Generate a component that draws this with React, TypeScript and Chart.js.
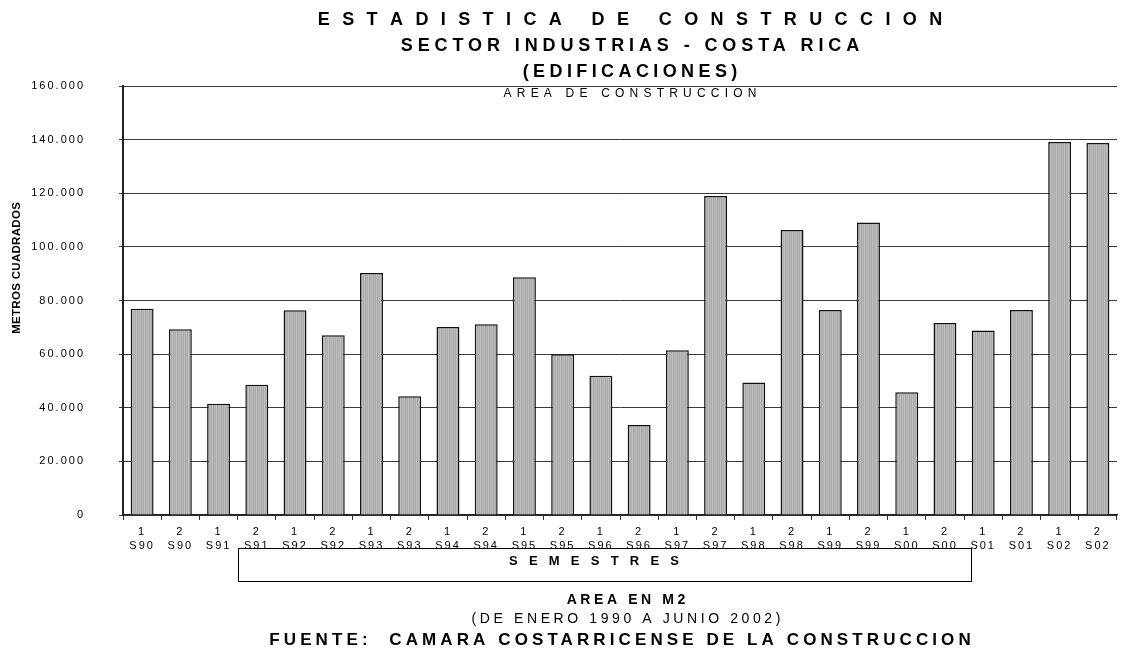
import React, { useEffect, useRef } from "react";
import { Chart, registerables } from "chart.js";

Chart.register(...registerables);

// ---- data ----
const semesters = ["1", "2", "1", "2", "1", "2", "1", "2", "1", "2", "1", "2", "1", "2", "1", "2", "1", "2", "1", "2", "1", "2", "1", "2", "1", "2"];
const years = ["S90", "S90", "S91", "S91", "S92", "S92", "S93", "S93", "S94", "S94", "S95", "S95", "S96", "S96", "S97", "S97", "S98", "S98", "S99", "S99", "S00", "S00", "S01", "S01", "S02", "S02"];
const areaM2 = [76900, 69300, 41500, 48600, 76400, 67000, 90300, 44300, 70100, 71100, 88700, 60000, 51900, 33600, 61400, 119000, 49400, 106300, 76500, 109100, 45800, 71600, 68800, 76500, 139100, 138700];
const yMin = 0;
const yMax = 160000;
const yStep = 20000;

const titleLines = [
  "E S T A D I S T I C A   D E   C O N S T R U C C I O N",
  "SECTOR INDUSTRIAS - COSTA RICA",
  "(EDIFICACIONES)",
];
const subtitle = "AREA DE CONSTRUCCION";
const yTitle = "METROS CUADRADOS";
const xTitle = "S E M E S T R E S";
const footer1 = "AREA EN M2";
const footer2 = "(DE ENERO 1990 A JUNIO 2002)";
const footer3 = "FUENTE:  CAMARA COSTARRICENSE DE LA CONSTRUCCION";

const FAMILY = "'Liberation Sans', Arial, Helvetica, sans-serif";

function fmt(v: number): string {
  const s = Math.round(v).toString();
  return s.replace(/\B(?=(\d{3})+(?!\d))/g, ".");
}

function makePattern(): CanvasPattern | string {
  const c = document.createElement("canvas");
  c.width = 4;
  c.height = 4;
  const g = c.getContext("2d");
  if (!g) return "#b4b4b4";
  const cols = ["#c0c0c0", "#a6a6a6", "#bababa", "#acacac"];
  cols.forEach((col, i) => {
    g.fillStyle = col;
    g.fillRect(i, 0, 1, 4);
  });
  const p = g.createPattern(c, "repeat");
  return p || "#b4b4b4";
}

function drawSpaced(
  ctx: CanvasRenderingContext2D,
  text: string,
  x: number,
  y: number,
  font: string,
  spacing: number,
  align: CanvasTextAlign = "center"
) {
  ctx.save();
  ctx.font = font;
  (ctx as any).letterSpacing = spacing + "px";
  ctx.textAlign = align;
  ctx.textBaseline = "middle";
  ctx.fillStyle = "#000";
  const dx = align === "center" ? spacing / 2 : 0;
  ctx.fillText(text, x + dx, y);
  ctx.restore();
}

const spacingPlugin = {
  id: "tickSpacing",
  beforeLayout(chart: any) {
    chart.ctx.letterSpacing = "2px";
  },
  beforeDraw(chart: any) {
    chart.ctx.letterSpacing = "2px";
  },
};

const decorPlugin = {
  id: "decor",
  afterDraw(chart: any) {
    const ctx: CanvasRenderingContext2D = chart.ctx;
    const cx = 630;
    drawSpaced(ctx, titleLines[0], cx, 20, `bold 18px ${FAMILY}`, 3.7);
    drawSpaced(ctx, titleLines[1], cx, 46, `bold 18px ${FAMILY}`, 4.9);
    drawSpaced(ctx, titleLines[2], cx, 72, `bold 18px ${FAMILY}`, 4.4);
    drawSpaced(ctx, subtitle, cx, 94, `12px ${FAMILY}`, 5.2);

    // y axis title
    ctx.save();
    ctx.translate(17, 268);
    ctx.rotate(-Math.PI / 2);
    drawSpaced(ctx, yTitle, 0, 0, `bold 11.5px ${FAMILY}`, 0.3);
    ctx.restore();

    // semestres box
    ctx.save();
    ctx.fillStyle = "#fff";
    ctx.strokeStyle = "#000";
    ctx.lineWidth = 1;
    ctx.fillRect(238, 548, 734, 34);
    ctx.strokeRect(238.5, 548.5, 733, 33);
    ctx.restore();
    drawSpaced(ctx, xTitle, 594, 561, `bold 13px ${FAMILY}`, 3.8);

    drawSpaced(ctx, footer1, 626, 600, `bold 14px ${FAMILY}`, 3.6);
    drawSpaced(ctx, footer2, 626, 619, `14px ${FAMILY}`, 3.6);
    drawSpaced(ctx, footer3, 620, 640, `bold 17px ${FAMILY}`, 4.1);
  },
};

export default function App() {
  const ref = useRef<HTMLCanvasElement | null>(null);

  useEffect(() => {
    if (!ref.current) return;
    const pattern = makePattern();
    const labels = semesters.map((s, i) => [s, years[i]]);
    const chart = new Chart(ref.current, {
      type: "bar",
      data: {
        labels,
        datasets: [
          {
            data: areaM2,
            backgroundColor: pattern as any,
            borderColor: "#111",
            borderWidth: 1.5,
            barPercentage: 0.6,
            categoryPercentage: 1,
          },
        ],
      },
      options: {
        animation: false,
        responsive: false,
        devicePixelRatio: 1,
        layout: { padding: { top: 86, right: 4, left: 0, bottom: 0 } },
        plugins: {
          legend: { display: false },
          title: { display: false },
          tooltip: { enabled: false },
        },
        scales: {
          x: {
            afterFit: (scale: any) => {
              scale.height = 138;
            },
            grid: {
              display: true,
              drawOnChartArea: false,
              drawTicks: true,
              tickLength: 5,
              offset: true,
              color: "#333",
            },
            border: { display: true, color: "#222", width: 1.5 },
            ticks: {
              color: "#000",
              font: { family: FAMILY, size: 11, lineHeight: 1.27 },
              padding: 5,
              maxRotation: 0,
              autoSkip: false,
            },
          },
          y: {
            min: yMin,
            max: yMax,
            afterFit: (scale: any) => {
              scale.width = 123;
            },
            grid: {
              color: "#3a3a3a",
              lineWidth: 1,
              tickLength: 4,
            },
            border: { display: true, color: "#222", width: 2 },
            ticks: {
              stepSize: yStep,
              color: "#000",
              font: { family: FAMILY, size: 11 },
              padding: 34,
              callback: (v: any) => fmt(Number(v)),
            },
          },
        },
      },
      plugins: [spacingPlugin, decorPlugin],
    });
    return () => chart.destroy();
  }, []);

  return (
    <div style={{ position: "fixed", left: 0, top: 0, width: 1121, height: 653, background: "#fff" }}>
      <canvas ref={ref} width={1121} height={653} style={{ display: "block" }} />
    </div>
  );
}
